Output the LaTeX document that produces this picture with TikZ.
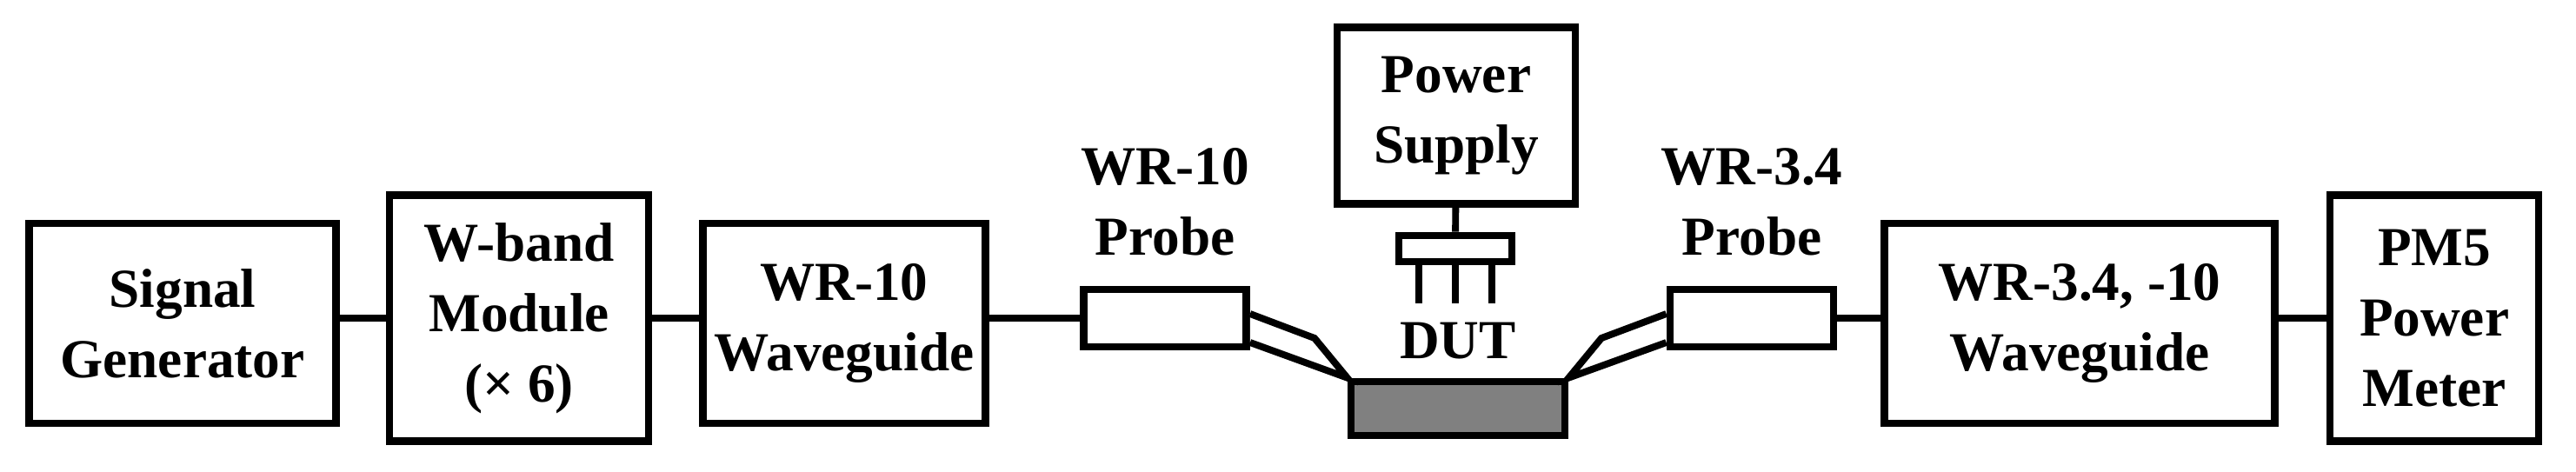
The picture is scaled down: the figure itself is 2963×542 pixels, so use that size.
\documentclass[tikz,border=0pt]{standalone}
\usepackage{fontspec}
\setmainfont{Liberation Serif}
\usetikzlibrary{calc}

\begin{document}
\begin{tikzpicture}
[x=0.02cm,y=-0.02cm,
box/.style={draw,line width=5pt,inner sep=0pt,align=center,font=\bfseries\fontsize{36}{46}\selectfont},
lab/.style={align=center,font=\bfseries\fontsize{36}{46}\selectfont},
wire/.style={line width=4.5pt},
tip/.style={draw,fill=white,line width=4.5pt,line join=miter},]

\useasboundingbox (0,0) rectangle (2963,542);

%Instrument boxes
\node (sg) at (210,372)[box,minimum width=7.06cm,minimum height=4.6cm] {Signal\\Generator};
\node (wb) at (597,366)[box,minimum width=5.96cm,minimum height=5.66cm] {W-band\\Module\\(\texttimes\ 6)};
\node (wg1) at (971,372)[box,minimum width=6.5cm,minimum height=4.6cm] {WR-10\\Waveguide};
\node (wg2) at (2392,372)[box,minimum width=8.98cm,minimum height=4.6cm] {WR-3.4, -10\\Waveguide};
\node (pm) at (2800,366)[box,minimum width=4.8cm,minimum height=5.66cm] {PM5\\Power\\Meter};
\node (ps) at (1675,133)[box,minimum width=5.48cm,minimum height=4.06cm] {Power\\Supply};

%Probes and DUT
\node (pr1) at (1340,366)[box,minimum width=3.74cm,minimum height=1.32cm] {};
\node (pr2) at (2015,366)[box,minimum width=3.76cm,minimum height=1.32cm] {};
\node (dut) at (1677,470)[box,fill=gray,minimum width=4.92cm,minimum height=1.24cm] {};
\node (conn) at (1674,286)[box,minimum width=2.6cm,minimum height=0.6cm] {};
\node (l1) at (1340,232)[lab] {WR-10\\Probe};
\node (l2) at (2015,232)[lab] {WR-3.4\\Probe};
\node (ld) at (1677,392)[lab] {DUT};

%Connections
\draw[wire] (sg.east |- 0,366) -- (wb);
\draw[wire] (wb) -- (wg1.west |- wb);
\draw[wire] (wg1.east |- pr1) -- (pr1);
\draw[wire] (pr2) -- (wg2.west |- pr2);
\draw[wire] (wg2.east |- pm) -- (pm);
\draw[wire] (ps) -- (conn);
\foreach \x in {-42,0,42}
  \draw[wire] ($(conn.south)+(\x,0)$) -- ++(0,44);

%Probe tips
\draw[tip] ($(pr1.east)+(0,-5)$) -- (1512,389) -- (dut.north west) -- ($(pr1.east)+(0,28)$);
\draw[tip] ($(pr2.west)+(0,-5)$) -- (1842,389) -- (dut.north east) -- ($(pr2.west)+(0,28)$);
\end{tikzpicture}
\end{document}
